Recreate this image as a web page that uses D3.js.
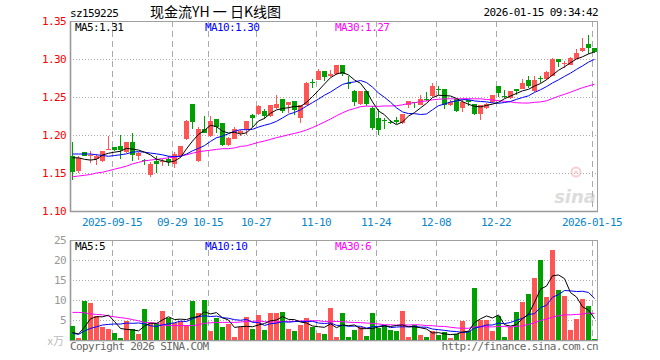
<!DOCTYPE html>
<html><head><meta charset="utf-8">
<script src="https://cdn.jsdelivr.net/npm/d3@7/dist/d3.min.js"></script>
<style>body{margin:0;background:#fff}svg{display:block}</style>
</head><body><svg id="c" width="660" height="360"></svg>
<script>
const dates = ["2025-09-04","2025-09-05","2025-09-08","2025-09-09","2025-09-10","2025-09-11","2025-09-12","2025-09-15","2025-09-16","2025-09-17","2025-09-18","2025-09-19","2025-09-22","2025-09-23","2025-09-24","2025-09-25","2025-09-26","2025-09-29","2025-09-30",
"2025-10-09","2025-10-10","2025-10-13","2025-10-14","2025-10-15","2025-10-16","2025-10-17","2025-10-20","2025-10-21","2025-10-22","2025-10-23","2025-10-24","2025-10-27","2025-10-28","2025-10-29","2025-10-30","2025-10-31",
"2025-11-03","2025-11-04","2025-11-05","2025-11-06","2025-11-07","2025-11-10","2025-11-11","2025-11-12","2025-11-13","2025-11-14","2025-11-17","2025-11-18","2025-11-19","2025-11-20","2025-11-21","2025-11-24","2025-11-25","2025-11-26","2025-11-27","2025-11-28",
"2025-12-01","2025-12-02","2025-12-03","2025-12-04","2025-12-05","2025-12-08","2025-12-09","2025-12-10","2025-12-11","2025-12-12","2025-12-15","2025-12-16","2025-12-17","2025-12-18","2025-12-19","2025-12-22","2025-12-23","2025-12-24","2025-12-25","2025-12-26","2025-12-29","2025-12-30","2025-12-31",
"2026-01-05","2026-01-06","2026-01-07","2026-01-08","2026-01-09","2026-01-12","2026-01-13","2026-01-14","2026-01-15"];

const open  = [1.172,1.152,1.177,1.173,1.168,1.166,1.181,1.184,1.186,1.178, 1.191,1.172,1.167,1.147,1.166,1.164,1.169,1.162,1.172,1.195, 1.241,1.166,1.208,1.199,1.221,1.216,1.187,1.195,1.203,1.208, 1.226,1.227,1.231,1.225,1.235,1.247,1.239,1.245,1.222,1.240, 1.270,1.273,1.284,1.278,1.280,1.292,1.268,1.258,1.241,1.258, 1.236,1.222,1.2195,1.217,1.220,1.216,1.240,1.244,1.240,1.2475, 1.251,1.261,1.260,1.239,1.247,1.236,1.246,1.241,1.227,1.236, 1.243,1.265,1.251,1.249,1.260,1.261,1.273,1.258,1.2752,1.274, 1.278,1.300,1.2947,1.2925,1.300,1.310,1.320,1.3145];
const close = [1.151,1.170,1.173,1.174,1.172,1.179,1.182,1.180,1.180,1.191, 1.174,1.176,1.166,1.162,1.162,1.166,1.164,1.175,1.185,1.219, 1.217,1.208,1.202,1.218,1.210,1.187,1.196,1.208,1.205,1.219, 1.222,1.238,1.225,1.239,1.241,1.231,1.244,1.233,1.239,1.268, 1.269,1.284,1.276,1.280,1.292,1.280,1.267,1.243,1.258,1.241, 1.209,1.207,1.2185,1.2165,1.217,1.227,1.245,1.242,1.247,1.247, 1.265,1.2605,1.240,1.244,1.231,1.244,1.243,1.227,1.240,1.241, 1.252,1.255,1.2505,1.258,1.258,1.269,1.265,1.272,1.2746,1.283, 1.300,1.296,1.2952,1.301,1.308,1.3145,1.3145,1.309];
const high  = [1.191,1.172,1.178,1.179,1.175,1.179,1.199,1.184,1.200,1.191, 1.203,1.178,1.169,1.165,1.172,1.169,1.172,1.178,1.186,1.220, 1.241,1.211,1.225,1.225,1.221,1.216,1.197,1.210,1.207,1.219, 1.228,1.239,1.234,1.240,1.252,1.247,1.244,1.245,1.240,1.270, 1.274,1.287,1.284,1.286,1.292,1.292,1.277,1.259,1.258,1.258, 1.238,1.234,1.222,1.220,1.224,1.227,1.245,1.244,1.253,1.257, 1.268,1.265,1.260,1.246,1.247,1.246,1.246,1.241,1.240,1.242, 1.253,1.265,1.259,1.258,1.261,1.274,1.277,1.277,1.278,1.284, 1.301,1.300,1.297,1.302,1.313,1.327,1.331,1.3145];
const low   = [1.141,1.150,1.172,1.163,1.160,1.164,1.180,1.179,1.169,1.176, 1.166,1.167,1.160,1.145,1.150,1.159,1.159,1.156,1.171,1.194, 1.208,1.165,1.202,1.198,1.203,1.185,1.186,1.195,1.199,1.200, 1.211,1.226,1.221,1.224,1.234,1.229,1.229,1.226,1.216,1.240, 1.262,1.272,1.271,1.276,1.279,1.278,1.260,1.238,1.239,1.238, 1.207,1.200,1.208,1.215,1.215,1.214,1.236,1.236,1.239,1.245, 1.250,1.252,1.234,1.238,1.230,1.230,1.238,1.226,1.220,1.234, 1.242,1.250,1.249,1.247,1.253,1.260,1.262,1.257,1.269,1.272, 1.277,1.290,1.288,1.292,1.300,1.309,1.307,1.3085];
const volume = [3.5,0.6,9.8,9.25,6.0,3.3,2.75,1.8,0.6,4.8, 2.75,1.5,7.75,4.3,4.3,7.25,5.4,4.3,4.8,3.75, 9.8,6.8,10.0,2.25,5.4,3.3,4.0,0.75,3.3,5.75, 2.75,6.25,2.5,6.75,6.75,7.0,2.75,2.25,3.75,5.5, 3.3,1.8,1.5,8.0,0.8,6.75,0.8,2.5,3.2,1.0, 6.75,2.9,3.75,2.5,2.3,7.25,0.75,3.75,1.25,0.75, 2.25,1.25,2.1,0.4,1.4,4.8,2.25,13.0,5.0,5.0, 2.3,6.0,0.75,3.3,7.0,9.6,11.5,15.5,20.0,10.8, 22.5,12.5,11.0,2.5,5.25,10.25,8.5,0.25];

// moving-average values for the first days (window reaches before the visible range)
const priceMA5Head  = [1.170,1.170,1.168,1.167];
const priceMA10Head = [1.175,1.175,1.175,1.175,1.174,1.173,1.172,1.173,1.174];
const priceMA30Head = [1.145,1.146,1.147,1.148,1.150,1.151,1.153,1.155,1.157,1.159,1.162,1.164,1.166,1.167,1.168,1.169,1.170,1.171,1.172,1.174,1.176,1.178,1.179,1.180,1.181,1.182,1.182,1.183,1.185];
const volMA5Head  = [1.9,1.5,3.2,5.3];
const volMA10Head = [1.7,1.4,2.25,2.9,3.3,3.75,3.9,4.0,4.0];
const volMA30Head = [6.9,6.9,6.8,6.5,6.4,6.3,6.0,5.8,5.6,5.4,5.1,4.8,4.4,4.3,4.2,3.8,3.6,3.6,3.6,3.6,3.6,3.8,4.2,4.3,4.4,4.4,4.4,4.4,4.5];

const priceTicks = [1.10,1.15,1.20,1.25,1.30,1.35];
const volTicks = [5,10,15,20,25];
const tickDates  = ["2025-09-15","2025-09-29","2025-10-15","2025-10-27","2025-11-10","2025-11-24","2025-12-08","2025-12-22","2026-01-15"];
const tickLabels = ["2025-09-15","09-29","10-15","10-27","11-10","11-24","12-08","12-22","2026-01-15"];

const UP = "#ff5555", DOWN = "#00a000";
const MONO = "'DejaVu Sans Mono', monospace";

const svg = d3.select("#c");
const L = 70, R = 598, PT = 21, PB = 211, VT = 240, VB = 340;
const x = d3.scaleBand().domain(dates).range([L, R]).paddingInner(0).paddingOuter(0);
const y = d3.scaleLinear().domain([1.10, 1.35]).range([PB, PT]);
const yv = d3.scaleLinear().domain([0, 25]).range([VB, VT]);
const cx = d => x(d) + 2.5;

function movingAvg(vals, n, head) {
  return vals.map((v, i) => i < n - 1 ? head[i] : d3.mean(vals.slice(i - n + 1, i + 1)));
}

// grid
const g = svg.append("g");
g.selectAll(".hg").data(priceTicks.slice(1, -1)).enter().append("line")
  .attr("x1", L).attr("x2", R).attr("y1", d => Math.round(y(d)) + 0.5).attr("y2", d => Math.round(y(d)) + 0.5)
  .attr("stroke", "#aaa").attr("stroke-dasharray", "1,2");
g.selectAll(".hv").data(volTicks.slice(0, -1)).enter().append("line")
  .attr("x1", L).attr("x2", R).attr("y1", d => Math.round(yv(d)) + 0.5).attr("y2", d => Math.round(yv(d)) + 0.5)
  .attr("stroke", "#aaa").attr("stroke-dasharray", "1,2");
[[PT, PB], [VT, VB]].forEach(([t, b]) => {
  g.selectAll(null).data(tickDates).enter().append("line")
    .attr("x1", d => x(d) + 0.5).attr("x2", d => x(d) + 0.5).attr("y1", t).attr("y2", b)
    .attr("stroke", "#aaa").attr("stroke-dasharray", "6,4");
});

// watermark
const wm = svg.append("g").attr("opacity", 0.5);
wm.append("circle").attr("cx", 576).attr("cy", 172).attr("r", 4.5).attr("fill", "none").attr("stroke", "#f4a0a0").attr("stroke-width", 2);
wm.append("circle").attr("cx", 576).attr("cy", 172).attr("r", 1.6).attr("fill", "#f4a0a0");
wm.append("text").attr("x", 596).attr("y", 203).attr("text-anchor", "end")
  .attr("font-family", "'DejaVu Sans', sans-serif").attr("font-size", 18).attr("font-weight", "bold").attr("font-style", "italic")
  .attr("fill", "#bbb").text("sina");

// borders
[[PT, PB], [VT, VB]].forEach(([t, b]) => {
  svg.append("rect").attr("x", L + 0.5).attr("y", t + 0.5).attr("width", R - L - 1).attr("height", b - t)
    .attr("fill", "none").attr("stroke", "#a0a0a0");
  svg.append("line").attr("x1", L + 0.5).attr("x2", L + 0.5).attr("y1", t).attr("y2", b + 1).attr("stroke", "#999").attr("stroke-width", 1.6);
  svg.append("line").attr("x1", L).attr("x2", R).attr("y1", b + 0.5).attr("y2", b + 0.5).attr("stroke", "#999").attr("stroke-width", 1.6);
});

// candles
const idx = d3.range(dates.length);
const col = i => close[i] >= open[i] ? UP : DOWN;
const cg = svg.append("g").attr("shape-rendering", "crispEdges");
cg.selectAll(".wick").data(idx).enter().append("line")
  .attr("x1", i => x(dates[i]) + 2.5).attr("x2", i => x(dates[i]) + 2.5)
  .attr("y1", i => y(high[i])).attr("y2", i => y(low[i]))
  .attr("stroke", col);
cg.selectAll(".body").data(idx).enter().append("rect")
  .attr("x", i => x(dates[i])).attr("width", 5)
  .attr("y", i => y(Math.max(open[i], close[i])))
  .attr("height", i => Math.max(1, Math.abs(y(open[i]) - y(close[i]))))
  .attr("fill", col);

// volume bars
cg.selectAll(".vol").data(idx).enter().append("rect")
  .attr("x", i => x(dates[i])).attr("width", 5)
  .attr("y", i => yv(volume[i])).attr("height", i => VB - yv(volume[i]))
  .attr("fill", col);

// MA lines
const pLine = d3.line().x((d, i) => cx(dates[i])).y(d => y(d));
const vLine = d3.line().x((d, i) => cx(dates[i])).y(d => yv(d));
const maDefs = [
  [movingAvg(close, 5, priceMA5Head), "#000"],
  [movingAvg(close, 10, priceMA10Head), "#0000ff"],
  [movingAvg(close, 30, priceMA30Head), "#ff00ff"]
];
const vmaDefs = [
  [movingAvg(volume, 5, volMA5Head), "#000"],
  [movingAvg(volume, 10, volMA10Head), "#0000ff"],
  [movingAvg(volume, 30, volMA30Head), "#ff00ff"]
];
maDefs.slice().reverse().forEach(([vals, c]) => svg.append("path").attr("d", pLine(vals)).attr("fill", "none").attr("stroke", c).attr("stroke-width", 1));
vmaDefs.slice().reverse().forEach(([vals, c]) => svg.append("path").attr("d", vLine(vals)).attr("fill", "none").attr("stroke", c).attr("stroke-width", 1));

// axes
function styleAxis(sel, color) {
  sel.select(".domain").remove();
  sel.selectAll(".tick line").remove();
  sel.selectAll("text").attr("fill", color).attr("font-family", MONO).attr("font-size", 11).attr("letter-spacing", -0.6);
}
svg.append("g").attr("transform", `translate(${L - 2},0)`)
  .call(d3.axisLeft(y).tickValues(priceTicks).tickFormat(d3.format(".2f")).tickSize(0).tickPadding(2))
  .call(s => styleAxis(s, "#ff0000"));
svg.append("g").attr("transform", `translate(${L - 2},0)`)
  .call(d3.axisLeft(yv).tickValues(volTicks).tickFormat(d3.format("d")).tickSize(0).tickPadding(2))
  .call(s => styleAxis(s, "#999"));
svg.append("g").attr("transform", `translate(-3,${PB + 4})`)
  .call(d3.axisBottom(x).tickValues(tickDates).tickFormat(d => tickLabels[tickDates.indexOf(d)]).tickSize(0).tickPadding(3))
  .call(s => styleAxis(s, "#0a84cc"));

// texts
const T = (txt, xx, yy, opts = {}) => svg.append("text").attr("x", xx).attr("y", yy)
  .attr("font-family", opts.family || MONO).attr("font-size", opts.size || 11)
  .attr("letter-spacing", opts.ls !== undefined ? opts.ls : -0.6)
  .attr("text-anchor", opts.anchor || "start").attr("fill", opts.fill || "#000").text(txt);
T("sz159225", 70, 17);
T("现金流YH 一 日K线图", 150, 17, {family: "'Noto Sans CJK SC', sans-serif", size: 14, ls: 0});
T("2026-01-15 09:34:42", 598, 16, {anchor: "end"});
const fmt2 = d3.format(".2f");
T("MA5:" + fmt2(maDefs[0][0].at(-1)), 75, 31, {fill: "#000"});
T("MA10:" + fmt2(maDefs[1][0].at(-1)), 205, 31, {fill: "#0000ff"});
T("MA30:" + fmt2(maDefs[2][0].at(-1)), 335, 31, {fill: "#ff00ff"});
T("MA5:" + Math.floor(vmaDefs[0][0].at(-1)), 75, 250, {fill: "#000"});
T("MA10:" + Math.floor(vmaDefs[1][0].at(-1)), 205, 250, {fill: "#0000ff"});
T("MA30:" + Math.floor(vmaDefs[2][0].at(-1)), 335, 250, {fill: "#ff00ff"});
T("x万", 64, 345, {anchor: "end", fill: "#bbb", family: "'Noto Sans CJK SC', sans-serif", size: 11, ls: 0});
T("Copyright 2026 SINA.COM", 70, 350, {fill: "#666"});
T("http://finance.sina.com.cn", 598, 350, {anchor: "end", fill: "#666"});
</script></body></html>
